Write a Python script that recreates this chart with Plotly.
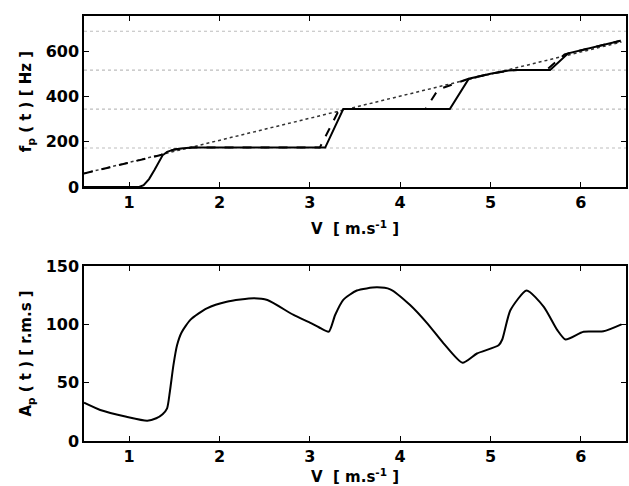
import plotly.graph_objects as go

# ---------------- data ----------------
V_RANGE = [0.5, 6.5]

# top panel: frequency
harmonic_levels = [172, 344, 516, 688]

ref_V = [0.5, 6.45]
ref_f = [60, 640]

solid_V = [0.5, 1.11, 1.16, 1.22, 1.28, 1.33, 1.37, 1.42, 1.5, 1.6, 1.7,
           3.17, 3.37, 4.55, 4.76, 5.0, 5.2, 5.3, 5.66, 5.86, 6.44]
solid_f = [0, 0, 8, 35, 75, 115, 140, 155, 166, 171, 174,
           174, 344, 344, 478, 500, 514, 517, 517, 590, 646]

dash_V = [0.5, 0.8, 1.1, 1.35, 1.42, 1.5, 1.6, 1.7,
          3.11, 3.31, 3.37, 4.28, 4.42, 4.6, 4.76, 5.0, 5.2, 5.3, 5.62, 5.82, 5.86, 6.44]
dash_f = [60, 88, 116, 141, 155, 166, 171, 174,
          174, 330, 344, 344, 430, 455, 478, 500, 514, 517, 517, 585, 590, 646]

# bottom panel: amplitude
amp_V = [0.5, 0.68, 0.97, 1.2, 1.3, 1.37, 1.42, 1.45, 1.49, 1.53, 1.58, 1.68, 1.86,
         2.08, 2.38, 2.53, 2.82, 3.0, 3.1, 3.21, 3.28, 3.37, 3.52, 3.74, 3.89,
         4.11, 4.30, 4.48, 4.69, 4.85, 5.09, 5.13, 5.22, 5.40, 5.59, 5.74, 5.83,
         6.03, 6.25, 6.45]
amp_A = [32.8, 26.6, 20.8, 17.4, 19.5, 23, 28, 42, 65, 82, 93, 104, 113.7,
         119.4, 122.3, 120.8, 108, 101.5, 97.5, 93.7, 108, 121, 129, 131.7, 130,
         116.5, 100.8, 83.7, 67, 75, 82, 87, 112, 129, 115, 95, 87,
         93.7, 94, 100]

x_ticks = [1, 2, 3, 4, 5, 6]
f_ticks = [0, 200, 400, 600]
A_ticks = [0, 50, 100, 150]
F_RANGE = [0, 755]
A_RANGE = [0, 150]

# ---------------- figure ----------------
fig = go.Figure()

# harmonic gray dotted lines
hx, hy = [], []
for lv in harmonic_levels:
    hx += [V_RANGE[0], V_RANGE[1], None]
    hy += [lv, lv, None]
fig.add_trace(go.Scatter(x=hx, y=hy, mode="lines", xaxis="x", yaxis="y",
                         line=dict(color="#bdbdbd", width=1.1, dash="dot"),
                         showlegend=False, hoverinfo="skip"))
fig.add_trace(go.Scatter(x=ref_V, y=ref_f, mode="lines", xaxis="x", yaxis="y",
                         line=dict(color="#333333", width=1.5, dash="dot"),
                         showlegend=False))
fig.add_trace(go.Scatter(x=dash_V, y=dash_f, mode="lines", xaxis="x", yaxis="y",
                         line=dict(color="black", width=2, dash="dash"),
                         showlegend=False))
fig.add_trace(go.Scatter(x=solid_V, y=solid_f, mode="lines", xaxis="x", yaxis="y",
                         line=dict(color="black", width=2),
                         showlegend=False))
fig.add_trace(go.Scatter(x=amp_V, y=amp_A, mode="lines", xaxis="x2", yaxis="y2",
                         line=dict(color="black", width=2, shape="spline", smoothing=0.6),
                         showlegend=False))

tickfont = dict(family="DejaVu Sans", size=16, color="black", weight="bold")
titlefont = dict(family="DejaVu Sans", size=15, color="black", weight="bold")

common_axis = dict(showline=True, linecolor="black", linewidth=1.5, mirror="ticks",
                   ticks="inside", ticklen=5, tickwidth=1.2, tickcolor="black",
                   showgrid=False, zeroline=False, tickfont=tickfont, automargin=False)

fig.update_layout(
    width=629, height=486,
    margin=dict(l=84, r=3, t=16, b=45),
    paper_bgcolor="white", plot_bgcolor="white",
    xaxis=dict(domain=[0, 1], anchor="y", range=V_RANGE, tickvals=x_ticks,
               title=dict(text="V\u00a0\u00a0[ m.s<sup>-1</sup> ]", font=titlefont, standoff=13),
               **common_axis),
    yaxis=dict(domain=[0.5976, 1], anchor="x", range=F_RANGE, tickvals=f_ticks,
               title=dict(text="f<sub>p</sub> ( t ) [ Hz ]", font=titlefont, standoff=10),
               **common_axis),
    xaxis2=dict(domain=[0, 1], anchor="y2", range=V_RANGE, tickvals=x_ticks,
                title=dict(text="V\u00a0\u00a0[ m.s<sup>-1</sup> ]", font=titlefont, standoff=13),
                **common_axis),
    yaxis2=dict(domain=[0, 0.4118], anchor="x2", range=A_RANGE, tickvals=A_ticks,
                title=dict(text="A<sub>p</sub> ( t ) [ r.m.s ]", font=titlefont, standoff=10),
                **common_axis),
)

fig.write_html("out.html")
